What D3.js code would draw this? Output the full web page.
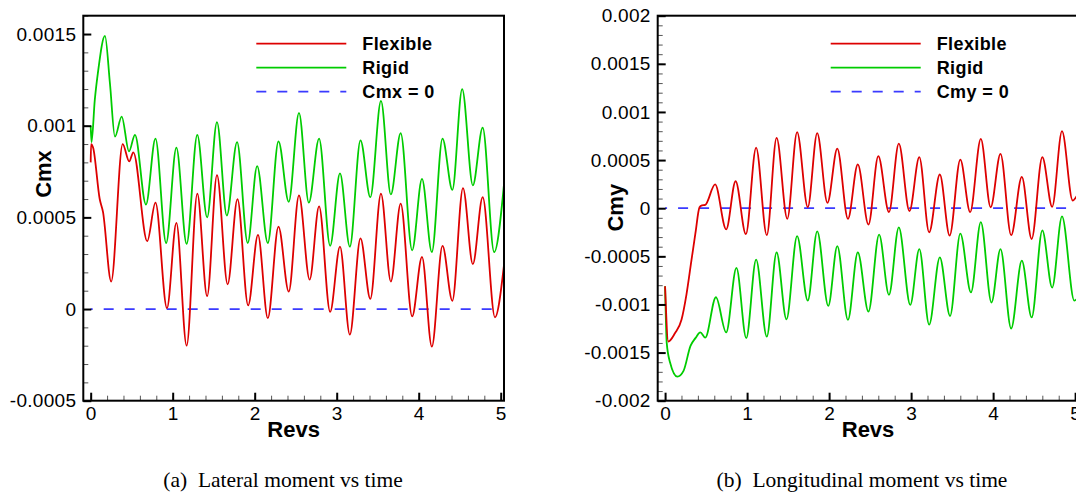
<!DOCTYPE html>
<html>
<head>
<meta charset="utf-8">
<script src="https://cdn.jsdelivr.net/npm/d3@7"></script>
<style>
  body { margin: 0; background: #fff; }
  svg { display: block; }
  .tick text { font-family: "Liberation Sans", Arial, sans-serif; font-size: 19px; letter-spacing: 0.3px; fill: #000; }
  .title { font-family: "Liberation Sans", Arial, sans-serif; font-size: 22px; font-weight: bold; }
  .legend text { font-family: "Liberation Sans", Arial, sans-serif; font-size: 18px; font-weight: bold; letter-spacing: 0.4px; }
  .caption { font-family: "Liberation Serif", "Times New Roman", serif; font-size: 21.5px; }
</style>
</head>
<body>
<svg width="1076" height="493"></svg>
<script>
// ---- data (peaks / troughs of each curve) ----
var revTicks = [0, 1, 2, 3, 4, 5];

// (a) lateral moment
var latFlexRevs = [0, 0.005, 0.03, 0.11, 0.15, 0.25, 0.39, 0.47, 0.52, 0.69, 0.79, 0.93, 1.045, 1.17, 1.30, 1.42, 1.54, 1.67, 1.79, 1.92,
  2.04, 2.16, 2.29, 2.415, 2.54, 2.67, 2.785, 2.92, 3.04, 3.16, 3.29, 3.41, 3.54, 3.66, 3.78, 3.92, 4.04, 4.16, 4.29, 4.41, 4.54, 4.66, 4.78, 4.93, 5.04];
var latFlexCmx = [0.00080, 0.00090, 0.00088, 0.00060, 0.00053, 0.00015, 0.00090, 0.000805, 0.000855, 0.00037, 0.00058, 0.000005, 0.00047, -0.00020,
  0.00063, 0.00007, 0.00073, 0.000135, 0.00060, 0.00002, 0.000405, -0.00005, 0.00045, 0.000095, 0.00062, 0.00016, 0.00056, -0.000015, 0.00034, -0.00014,
  0.000385, 0.000055, 0.00063, 0.00015, 0.000575, -0.00004, 0.000285, -0.000205, 0.000345, 0.000045, 0.00066, 0.000245, 0.00061, -0.000045, 0.00024];

var latRigidRevs = [0, 0.01, 0.05, 0.09, 0.174, 0.235, 0.296, 0.378, 0.467, 0.54, 0.674, 0.79, 0.92, 1.045, 1.17, 1.30, 1.42, 1.54, 1.66, 1.785, 1.915,
  2.03, 2.16, 2.29, 2.415, 2.54, 2.66, 2.785, 2.92, 3.04, 3.16, 3.29, 3.41, 3.54, 3.66, 3.78, 3.92, 4.04, 4.16, 4.29, 4.41, 4.53, 4.66, 4.78, 4.92, 5.04];
var latRigidCmx = [0.00100, 0.00091, 0.00114, 0.001295, 0.00149, 0.00123, 0.00094, 0.00105, 0.00086, 0.00095, 0.00057, 0.00093, 0.00036, 0.00088,
  0.000355, 0.00095, 0.00050, 0.00102, 0.00051, 0.00091, 0.00036, 0.00078, 0.00036, 0.000915, 0.000585, 0.00107, 0.00058, 0.00093, 0.000345,
  0.00074, 0.00034, 0.00092, 0.00061, 0.001135, 0.000625, 0.00096, 0.00032, 0.00071, 0.00031, 0.00093, 0.00065, 0.00120, 0.000675, 0.00099, 0.00031, 0.00068];

// (b) longitudinal moment
var lonFlexRevs = [0, 0.04, 0.12, 0.20, 0.26, 0.32, 0.37, 0.42, 0.45, 0.49, 0.61, 0.745, 0.86, 0.985, 1.11, 1.24, 1.36, 1.49, 1.61, 1.74, 1.855, 1.98,
  2.10, 2.23, 2.35, 2.48, 2.60, 2.73, 2.85, 2.98, 3.10, 3.22, 3.35, 3.47, 3.60, 3.72, 3.85, 3.97, 4.09, 4.22, 4.35, 4.47, 4.60, 4.72, 4.84, 4.97, 5.04];
var lonFlexCmy = [-0.00081, -0.001385, -0.00130, -0.00116, -0.00090, -0.00055, -0.00026, 0.00001, 0.00003, 0.000035, 0.000247, -0.00022, 0.00028,
  -0.00027, 0.00063, -0.00028, 0.00073, -0.00011, 0.00079, 0.00001, 0.00078, 0.000055, 0.00062, -0.00011, 0.000455, -0.00017, 0.00054, -0.00004,
  0.00067, -0.00003, 0.00053, -0.00025, 0.00035, -0.000285, 0.000505, -0.00004, 0.00072, 0.00001, 0.000565, -0.00028, 0.000325, -0.00032, 0.00053,
  0.000015, 0.00080, 0.00008, 0.00016];

var lonRigidRevs = [0, 0.02, 0.06, 0.15, 0.225, 0.31, 0.37, 0.43, 0.49, 0.62, 0.745, 0.87, 0.99, 1.11, 1.24, 1.36, 1.48, 1.61, 1.74, 1.855, 1.99,
  2.10, 2.23, 2.35, 2.48, 2.61, 2.73, 2.85, 2.99, 3.10, 3.22, 3.35, 3.475, 3.60, 3.73, 3.85, 3.98, 4.09, 4.22, 4.35, 4.47, 4.60, 4.72, 4.84, 4.99, 5.04];
var lonRigidCmy = [-0.00081, -0.00140, -0.00160, -0.00175, -0.00169, -0.00143, -0.00135, -0.00129, -0.001345, -0.000925, -0.00129, -0.00062,
  -0.00135, -0.000535, -0.001335, -0.00046, -0.001155, -0.00029, -0.00096, -0.00024, -0.001015, -0.000395, -0.00116, -0.00046, -0.001075,
  -0.000275, -0.00090, -0.00020, -0.001005, -0.000425, -0.00121, -0.00051, -0.00112, -0.000265, -0.000875, -0.000145, -0.00098, -0.000425,
  -0.00125, -0.000545, -0.001135, -0.00023, -0.000825, -0.000085, -0.00096, -0.00092];

var zeroRevs = [0, 5];
var zeroVals = [0, 0];

var cmxTicks = [-0.0005, 0, 0.0005, 0.001, 0.0015];
var cmxTickLabels = ["-0.0005", "0", "0.0005", "0.001", "0.0015"];
var cmyTicks = [-0.002, -0.0015, -0.001, -0.0005, 0, 0.0005, 0.001, 0.0015, 0.002];
var cmyTickLabels = ["-0.002", "-0.0015", "-0.001", "-0.0005", "0", "0.0005", "0.001", "0.0015", "0.002"];

var seriesNames = ["Flexible", "Rigid"];
var captions = ["(a)  Lateral moment vs time", "(b)  Longitudinal moment vs time"];

// ---- drawing ----
var svg = d3.select("svg");
var red = "#dd0000", green = "#00cc00", blue = "#3a3aff";
var pw = 420.7, ph = 385, plotTop = 15.7;

function panel(opt) {
  var g = svg.append("g").attr("transform", "translate(" + opt.left + "," + plotTop + ")");

  var x = d3.scaleLinear().domain([-0.09, 5.04]).range([0, pw]);
  var y = d3.scaleLinear().domain(opt.yDomain).range([ph, 0]);

  var clipId = "clip" + opt.id;
  g.append("clipPath").attr("id", clipId)
    .append("rect").attr("width", pw).attr("height", ph);

  var line = d3.line()
    .x(function(d) { return x(d[0]); })
    .y(function(d) { return y(d[1]); })
    .curve(d3.curveMonotoneX);

  var plot = g.append("g").attr("clip-path", "url(#" + clipId + ")");

  plot.append("path")
    .attr("fill", "none")
    .attr("stroke", blue)
    .attr("stroke-width", 1.8)
    .attr("stroke-dasharray", "10 11")
    .attr("stroke-dashoffset", 8)
    .attr("d", line(d3.zip(zeroRevs, zeroVals)));

  plot.append("path")
    .attr("fill", "none")
    .attr("stroke", green)
    .attr("stroke-width", 1.8)
    .attr("stroke-linejoin", "round")
    .attr("d", line(d3.zip(opt.rigidX, opt.rigidY)));

  plot.append("path")
    .attr("fill", "none")
    .attr("stroke", red)
    .attr("stroke-width", 1.8)
    .attr("stroke-linejoin", "round")
    .attr("d", line(d3.zip(opt.flexX, opt.flexY)));

  // minor ticks
  var yMinor = d3.range(opt.yDomain[0], opt.yDomain[1] + 1e-9, 0.0001);
  g.append("g")
    .call(d3.axisLeft(y).tickValues(yMinor).tickSizeInner(-5).tickSizeOuter(0).tickFormat(""))
    .call(function(a) { a.select(".domain").remove(); a.selectAll("line").attr("stroke", "#555").attr("stroke-width", 1); });
  g.append("g")
    .attr("transform", "translate(0," + ph + ")")
    .call(d3.axisBottom(x).tickValues(d3.range(0, 5.01, 0.2)).tickSizeInner(-5).tickSizeOuter(0).tickFormat(""))
    .call(function(a) { a.select(".domain").remove(); a.selectAll("line").attr("stroke", "#555").attr("stroke-width", 1); });

  // major ticks
  g.append("g")
    .call(d3.axisLeft(y).tickValues(opt.yTicks).tickSizeInner(-8).tickSizeOuter(0).tickPadding(7)
      .tickFormat(function(d, i) { return opt.yLabels[i]; }))
    .call(function(a) { a.select(".domain").remove(); a.selectAll("line").attr("stroke", "#000").attr("stroke-width", 2); });
  g.append("g")
    .attr("transform", "translate(0," + ph + ")")
    .call(d3.axisBottom(x).tickValues(revTicks).tickSizeInner(-8).tickSizeOuter(0).tickPadding(6).tickFormat(d3.format("d")))
    .call(function(a) { a.select(".domain").remove(); a.selectAll("line").attr("stroke", "#000").attr("stroke-width", 2); });

  g.append("rect")
    .attr("width", pw).attr("height", ph)
    .attr("fill", "none").attr("stroke", "#000").attr("stroke-width", 2);

  // axis titles
  g.append("text").attr("class", "title")
    .attr("x", pw / 2).attr("y", 421.5)
    .attr("text-anchor", "middle")
    .text("Revs");
  g.append("text").attr("class", "title")
    .attr("transform", "translate(" + opt.yTitleX + "," + opt.yTitleY + ") rotate(-90)")
    .attr("text-anchor", "middle")
    .text(opt.yTitle);

  // legend
  var lg = g.append("g").attr("class", "legend").attr("transform", "translate(173,0)");
  var items = [
    {name: seriesNames[0], color: red, dash: null},
    {name: seriesNames[1], color: green, dash: null},
    {name: opt.yTitle + " = 0", color: blue, dash: "10 11"}
  ];
  items.forEach(function(it, i) {
    var yy = 28 + i * 24;
    lg.append("line")
      .attr("x1", 0).attr("x2", 90).attr("y1", yy).attr("y2", yy)
      .attr("stroke", it.color).attr("stroke-width", 1.8)
      .attr("stroke-dasharray", it.dash);
    lg.append("text")
      .attr("x", 106).attr("y", yy).attr("dy", "0.35em")
      .text(it.name);
  });

  svg.append("text").attr("class", "caption")
    .attr("x", opt.capX).attr("y", 487)
    .attr("text-anchor", "middle")
    .style("white-space", "pre")
    .text(opt.caption);
}

panel({
  id: "a", left: 83.3, yDomain: [-0.0005, 0.0016],
  yTicks: cmxTicks, yLabels: cmxTickLabels,
  flexX: latFlexRevs, flexY: latFlexCmx, rigidX: latRigidRevs, rigidY: latRigidCmx,
  yTitle: "Cmx", yTitleX: -32.6, yTitleY: 158.3,
  caption: captions[0], capX: 283
});

panel({
  id: "b", left: 657.7, yDomain: [-0.002, 0.002],
  yTicks: cmyTicks, yLabels: cmyTickLabels,
  flexX: lonFlexRevs, flexY: lonFlexCmy, rigidX: lonRigidRevs, rigidY: lonRigidCmy,
  yTitle: "Cmy", yTitleX: -34.4, yTitleY: 192,
  caption: captions[1], capX: 862
});
</script>
</body>
</html>
